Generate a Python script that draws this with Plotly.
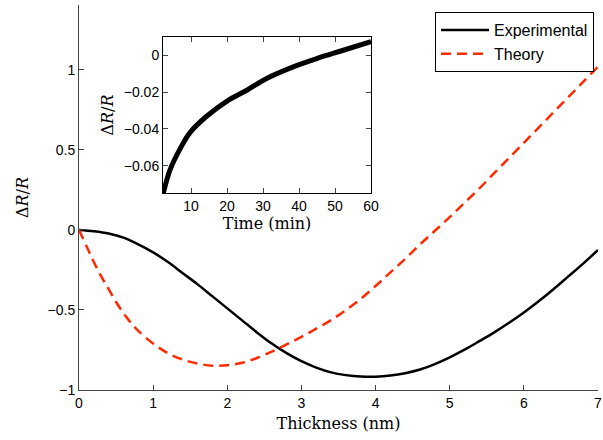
import plotly.graph_objects as go

# Main panel: relative resistance change vs. film thickness
exp_thickness = [0.0, 0.2, 0.4, 0.6, 0.8, 1.0, 1.2, 1.4, 1.6, 1.8, 2.0, 2.2, 2.4, 2.6, 2.8,
                 3.0, 3.2, 3.4, 3.6, 3.8, 4.0, 4.2, 4.4, 4.6, 4.8, 5.0, 5.2, 5.4, 5.6, 5.8,
                 6.0, 6.2, 6.4, 6.6, 6.8, 7.0]
exp_dr = [0.0, -0.008, -0.022, -0.048, -0.09, -0.14, -0.20, -0.27, -0.34, -0.415, -0.49,
          -0.565, -0.64, -0.71, -0.77, -0.82, -0.86, -0.89, -0.907, -0.916, -0.917, -0.91,
          -0.895, -0.872, -0.838, -0.796, -0.748, -0.695, -0.64, -0.58, -0.515, -0.445,
          -0.37, -0.29, -0.21, -0.125]

theory_thickness = [0.0, 0.1, 0.2, 0.3, 0.4, 0.5, 0.6, 0.7, 0.8, 1.0, 1.2, 1.4, 1.6, 1.8,
                    2.0, 2.2, 2.4, 2.6, 2.8, 3.0, 3.2, 3.4, 3.6, 3.8, 4.0, 4.2, 4.4, 4.6,
                    4.8, 5.0, 5.2, 5.4, 5.6, 5.8, 6.0, 6.2, 6.4, 6.6, 6.8, 7.0]
theory_dr = [0.0, -0.10, -0.20, -0.29, -0.37, -0.45, -0.52, -0.58, -0.63, -0.71, -0.77, -0.81,
             -0.835, -0.848, -0.845, -0.83, -0.80, -0.76, -0.715, -0.668, -0.617, -0.563,
             -0.50, -0.43, -0.35, -0.265, -0.18, -0.09, -0.005, 0.08, 0.17, 0.26, 0.355,
             0.45, 0.545, 0.64, 0.735, 0.83, 0.925, 1.02]

# Inset: resistance change vs. time
time_min = [2.3, 4.2, 6.9, 9.7, 14.4, 19.9, 25.5, 31.0, 38.4, 44.9, 52.3, 60.0]
inset_dr = [-0.0748, -0.062, -0.051, -0.042, -0.033, -0.025, -0.019, -0.0126, -0.0063,
            -0.0018, 0.0027, 0.0074]

x_ticks = [0, 1, 2, 3, 4, 5, 6, 7]
y_ticks = [-1, -0.5, 0, 0.5, 1]
inset_x_ticks = [10, 20, 30, 40, 50, 60]
inset_y_ticks = [-0.06, -0.04, -0.02, 0]

sans = "Liberation Sans, Arial, sans-serif"
serif = "DejaVu Serif, Liberation Serif, serif"
red = "#ff2a00"

# plot area in pixels
L, R, T, B = 79, 598, 5, 390
W, H = R - L, B - T


def px_x(p):
    return (p - L) / W


def px_y(p):
    return (B - p) / H


fig = go.Figure()
fig.add_trace(go.Scatter(x=exp_thickness, y=exp_dr, mode="lines", name="Experimental",
                         line=dict(color="black", width=2.5, shape="spline", smoothing=1.0)))
fig.add_trace(go.Scatter(x=theory_thickness, y=theory_dr, mode="lines", name="Theory",
                         line=dict(color=red, width=2.5, dash="10px,6px", shape="spline",
                                   smoothing=1.0)))
fig.add_trace(go.Scatter(x=time_min, y=inset_dr, mode="lines", showlegend=False,
                         xaxis="x2", yaxis="y2",
                         line=dict(color="black", width=5, shape="spline", smoothing=1.0)))

axis_common = dict(showgrid=False, zeroline=False, ticks="inside", ticklen=5,
                   tickcolor="#444", linecolor="#444", linewidth=1, showline=True,
                   automargin=False,
                   tickfont=dict(family=sans, size=14, color="black"))

fig.update_layout(
    width=603, height=440,
    margin=dict(l=L, r=603 - R, t=T, b=440 - B),
    paper_bgcolor="white", plot_bgcolor="white",
    showlegend=True,
    legend=dict(x=px_x(594), y=px_y(12), xanchor="right", yanchor="top",
                bordercolor="black", borderwidth=1, bgcolor="white",
                font=dict(family=sans, size=16, color="black"),
                tracegroupgap=0, itemwidth=48),
    xaxis=dict(range=[0, 7], tickvals=x_ticks, **axis_common,
               title=dict(text="Thickness (nm)", font=dict(family=serif, size=16, color="black"),
                          standoff=8)),
    yaxis=dict(range=[-1, 1.406], tickvals=y_ticks, **axis_common,
               title=dict(text="Δ<i>R</i>/<i>R</i>", font=dict(family=serif, size=16, color="black"),
                          standoff=14)),
    xaxis2=dict(domain=[px_x(163), px_x(371)], anchor="y2", range=[2.2, 60],
                tickvals=inset_x_ticks, mirror="ticks", **axis_common,
                title=dict(text="Time (min)", font=dict(family=serif, size=16, color="black"),
                           standoff=4)),
    yaxis2=dict(domain=[px_y(193), px_y(37)], anchor="x2", range=[-0.0748, 0.0099],
                tickvals=inset_y_ticks, tickformat=".2~f", mirror="ticks", **axis_common,
                title=dict(text="Δ<i>R</i>/<i>R</i>", font=dict(family=serif, size=16, color="black"),
                           standoff=6)),
)
fig.update_xaxes(linecolor="black", selector=dict(anchor="y2"))
fig.update_yaxes(linecolor="black", selector=dict(anchor="x2"))

fig.write_html("out.html")
